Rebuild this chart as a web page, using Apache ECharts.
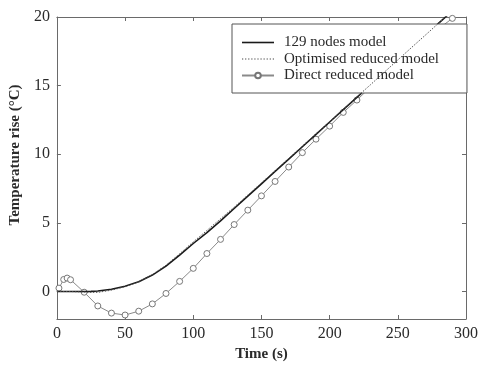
<!DOCTYPE html>
<html>
<head>
<meta charset="utf-8">
<script src="https://cdn.jsdelivr.net/npm/echarts@6/dist/echarts.min.js"></script>
<style>
html,body{margin:0;padding:0;background:#fff;}
#chart{width:481px;height:367px;}
</style>
</head>
<body>
<div id="chart"></div>
<script>
// Data
var seriesNames = ['129 nodes model', 'Optimised reduced model', 'Direct reduced model'];
var xTicks = [0, 50, 100, 150, 200, 250, 300];
var yTicks = [0, 5, 10, 15, 20];

var nodesTime = [0, 10, 20, 25, 30, 40, 50, 60, 70, 80, 90, 100, 110, 120, 130, 140, 150, 160, 170, 180, 190, 200, 210, 220, 230, 240, 250, 260, 270, 280, 290, 300];
var nodesTemp = [0, 0, 0, 0.01, 0.04, 0.17, 0.38, 0.72, 1.2, 1.85, 2.65, 3.5, 4.3, 5.15, 6.05, 6.95, 7.85, 8.75, 9.65, 10.55, 11.45, 12.35, 13.25, 14.15, 15.05, 15.95, 16.85, 17.75, 18.65, 19.55, 20.45, 21.35];

var optTime = [0, 10, 20, 25, 30, 40, 50, 60, 70, 80, 90, 100, 110, 120, 130, 140, 150, 160, 170, 180, 190, 200, 210, 220, 230, 240, 250, 260, 270, 280, 290, 300];
var optTemp = [0, 0, -0.04, -0.06, -0.06, 0.1, 0.35, 0.72, 1.24, 1.92, 2.75, 3.62, 4.45, 5.3, 6.15, 7.03, 7.92, 8.8, 9.7, 10.6, 11.5, 12.38, 13.28, 14.18, 15.07, 15.97, 16.87, 17.77, 18.66, 19.56, 20.46, 21.36];

var directTime = [1.5, 5, 7.5, 10, 20, 30, 40, 50, 60, 70, 80, 90, 100, 110, 120, 130, 140, 150, 160, 170, 180, 190, 200, 210, 220, 230, 240, 250, 260, 270, 280, 290];
var directTemp = [0.25, 0.88, 0.98, 0.86, -0.05, -1.05, -1.57, -1.71, -1.43, -0.9, -0.14, 0.74, 1.69, 2.77, 3.8, 4.88, 5.93, 6.97, 8.02, 9.07, 10.12, 11.1, 12.05, 13.05, 13.95, 14.9, 15.8, 16.7, 17.5, 18.35, 19.15, 19.9];

function pairs(xs, ys) { return xs.map(function (x, i) { return [x, ys[i]]; }); }

// legend icon shapes (line samples)
var solidIcon = 'path://M0,0H32V1.6H0Z';
var dotIcon = (function () {
  var s = 'path://';
  for (var i = 0; i < 11; i++) { s += 'M' + (i * 3) + ',0h1.2v1h-1.2z'; }
  return s;
})();

var FONT = 'Liberation Serif';
var axisColor = '#6a6a6a';
var txt = '#2a2a2a';

var tickStyle = {show: true, inside: true, length: 4, lineStyle: {color: axisColor}};
var lineStyleAxis = {show: true, onZero: false, lineStyle: {color: axisColor, width: 1}};

var chart = echarts.init(document.getElementById('chart'), null, {renderer: 'canvas'});
chart.setOption({
  animation: false,
  backgroundColor: '#fff',
  textStyle: {fontFamily: FONT},
  grid: {left: 54, right: 9, top: 17, bottom: 44, containLabel: false},
  legend: {
    data: [
      {name: seriesNames[0], icon: solidIcon, itemStyle: {color: '#1a1a1a'}},
      {name: seriesNames[1], icon: dotIcon, itemStyle: {color: '#444'}},
      {name: seriesNames[2]}
    ],
    orient: 'vertical',
    left: 232,
    top: 24,
    padding: [11, 28, 10, 9],
    itemWidth: 32,
    itemHeight: 7,
    itemGap: 1.5,
    backgroundColor: '#fff',
    borderColor: '#555',
    borderWidth: 1,
    borderRadius: 0,
    textStyle: {fontFamily: FONT, fontSize: 15, color: txt, lineHeight: 15, padding: [0, 0, 0, 5]}
  },
  xAxis: [{
    type: 'value', min: 0, max: 300, interval: 50,
    name: 'Time (s)', nameLocation: 'middle', nameGap: 28,
    nameTextStyle: {fontFamily: FONT, fontSize: 15, fontWeight: 'bold', color: txt},
    axisLine: lineStyleAxis,
    axisTick: tickStyle,
    axisLabel: {fontFamily: FONT, fontSize: 16, color: txt, margin: 7},
    splitLine: {show: false}
  }, {
    type: 'value', min: 0, max: 300, interval: 50, position: 'top',
    axisLine: lineStyleAxis,
    axisTick: tickStyle,
    axisLabel: {show: false},
    splitLine: {show: false}
  }],
  yAxis: [{
    type: 'value', min: -2, max: 20,
    name: 'Temperature rise (°C)', nameLocation: 'middle', nameGap: 31,
    nameTextStyle: {fontFamily: FONT, fontSize: 15, fontWeight: 'bold', color: txt, padding: [0, 0, 0, 26]},
    axisLine: lineStyleAxis,
    axisTick: {show: true, inside: true, length: 4, customValues: yTicks, lineStyle: {color: axisColor}},
    axisLabel: {fontFamily: FONT, fontSize: 16, color: txt, margin: 7, customValues: yTicks},
    splitLine: {show: false}
  }, {
    type: 'value', min: -2, max: 20, position: 'right',
    axisLine: lineStyleAxis,
    axisTick: {show: true, inside: true, length: 4, customValues: yTicks, lineStyle: {color: axisColor}},
    axisLabel: {show: false},
    splitLine: {show: false}
  }],
  series: [{
    name: seriesNames[0], type: 'line', data: pairs(nodesTime, nodesTemp),
    symbol: 'none', clip: true,
    lineStyle: {color: '#1a1a1a', width: 1.6},
    itemStyle: {color: '#1a1a1a'}, z: 3
  }, {
    name: seriesNames[1], type: 'line', data: pairs(optTime, optTemp),
    symbol: 'none', clip: true,
    lineStyle: {color: '#555', width: 1, type: [1.5, 1.5]},
    itemStyle: {color: '#555'}, z: 4
  }, {
    name: seriesNames[2], type: 'line', data: pairs(directTime, directTemp),
    symbol: 'circle', symbolSize: 6, clip: true,
    lineStyle: {color: '#8a8a8a', width: 1},
    itemStyle: {color: '#fff', borderColor: '#777', borderWidth: 1}, z: 2
  }]
});
</script>
</body>
</html>
